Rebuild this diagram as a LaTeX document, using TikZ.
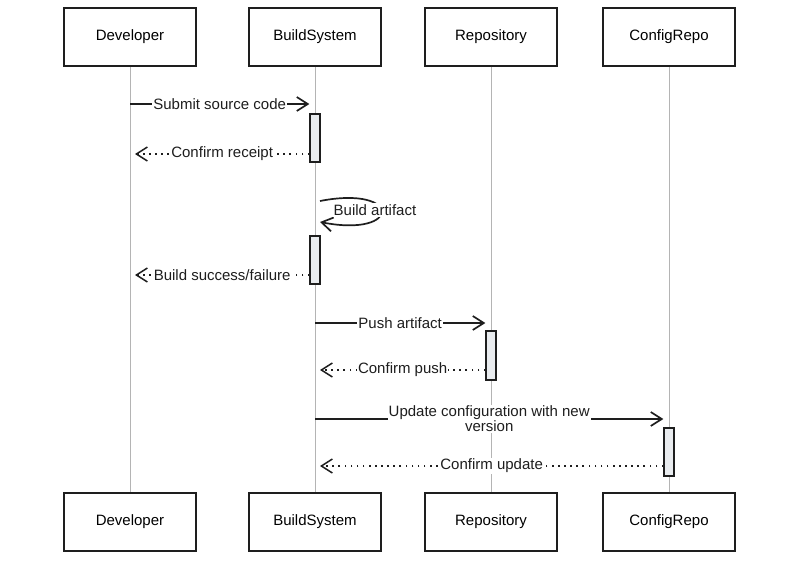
\documentclass[tikz,border=0pt]{standalone}
\usepackage{fontspec}
\setmainfont{Liberation Sans}
\usetikzlibrary{positioning,arrows.meta}

\definecolor{inkblack}{HTML}{1E1E1E}
\definecolor{lifegray}{HTML}{B4B4B4}
\definecolor{actfill}{HTML}{E9ECEF}

\begin{document}
\begin{tikzpicture}[x=1pt,y=-1pt,>={Straight Barb[length=11pt,width=14pt]},
    font=\fontsize{15}{17}\selectfont,
    actor/.style={draw=inkblack,line width=1.8pt,fill=white,minimum width=132pt,minimum height=58pt},
    lifeline/.style={draw=lifegray,line width=0.9pt},
    act/.style={draw=inkblack,line width=1.3pt,fill=actfill,minimum width=10pt,inner sep=0pt},
    call/.style={->,draw=inkblack,line width=1.7pt},
    reply/.style={->,draw=inkblack,line width=1.5pt,dash pattern=on 1.6pt off 4.5pt},
    lbl/.style={fill=white,inner sep=1pt,text=inkblack}]

    \useasboundingbox (0,0) rectangle (800,560);

    \node[actor] (dev) at (130,37) {Developer};
    \node[actor] (bs) [right of = dev, node distance=185pt] {BuildSystem};
    \node[actor] (repo) [right of = bs, node distance=176pt] {Repository};
    \node[actor] (cfg) [right of = repo, node distance=178pt] {ConfigRepo};

    \node[actor] (devB) at (130,522) {Developer};
    \node[actor] (bsB) [right of = devB, node distance=185pt] {BuildSystem};
    \node[actor] (repoB) [right of = bsB, node distance=176pt] {Repository};
    \node[actor] (cfgB) [right of = repoB, node distance=178pt] {ConfigRepo};

    \draw[lifeline] (dev) -- (devB);
    \draw[lifeline] (bs) -- (bsB);
    \draw[lifeline] (repo) -- (repoB);
    \draw[lifeline] (cfg) -- (cfgB);

    % activations
    \node[act,minimum height=48pt] (a1) at (315,138) {};
    \node[act,minimum height=48pt] (a2) at (315,260) {};
    \node[act,minimum height=49pt] (a3) at (491,355.5) {};
    \node[act,minimum height=48pt] (a4) at (669,452) {};

    \coordinate (r1) at (0,104);
    \coordinate (r2) at (0,154);
    \coordinate (r3) at (0,201);
    \coordinate (r4) at (0,222);
    \coordinate (r5) at (0,275);
    \coordinate (r6) at (0,323);
    \coordinate (r7) at (0,370);
    \coordinate (r8) at (0,419);
    \coordinate (r9) at (0,466);

    \draw[call] (dev |- r1) -- (a1.west |- r1) node[lbl,midway] {Submit source code};
    \draw[reply] (a1.west |- r2) -- ([xshift=5pt]dev |- r2) node[lbl,midway] {Confirm receipt};

    \draw[call] ([xshift=5pt]bs |- r3) .. controls +(82,-16) and +(82,16) .. ([xshift=5pt]bs |- r4);
    \node[lbl] (selflbl) at (375,210) {Build artifact};

    \draw[reply] (a2.west |- r5) -- ([xshift=5pt]dev |- r5) node[lbl,midway] {Build success/failure};

    \draw[call] (bs |- r6) -- (a3.west |- r6) node[lbl,midway] {Push artifact};
    \draw[reply] (a3.west |- r7) -- ([xshift=5pt]bs |- r7) node[lbl,midway] {Confirm push};

    \draw[call] (bs |- r8) -- (a4.west |- r8) node[lbl,midway,align=center] {Update configuration with new\\[-2pt]version};
    \draw[reply] (a4.west |- r9) -- ([xshift=5pt]bs |- r9) node[lbl,midway] {Confirm update};

\end{tikzpicture}
\end{document}
